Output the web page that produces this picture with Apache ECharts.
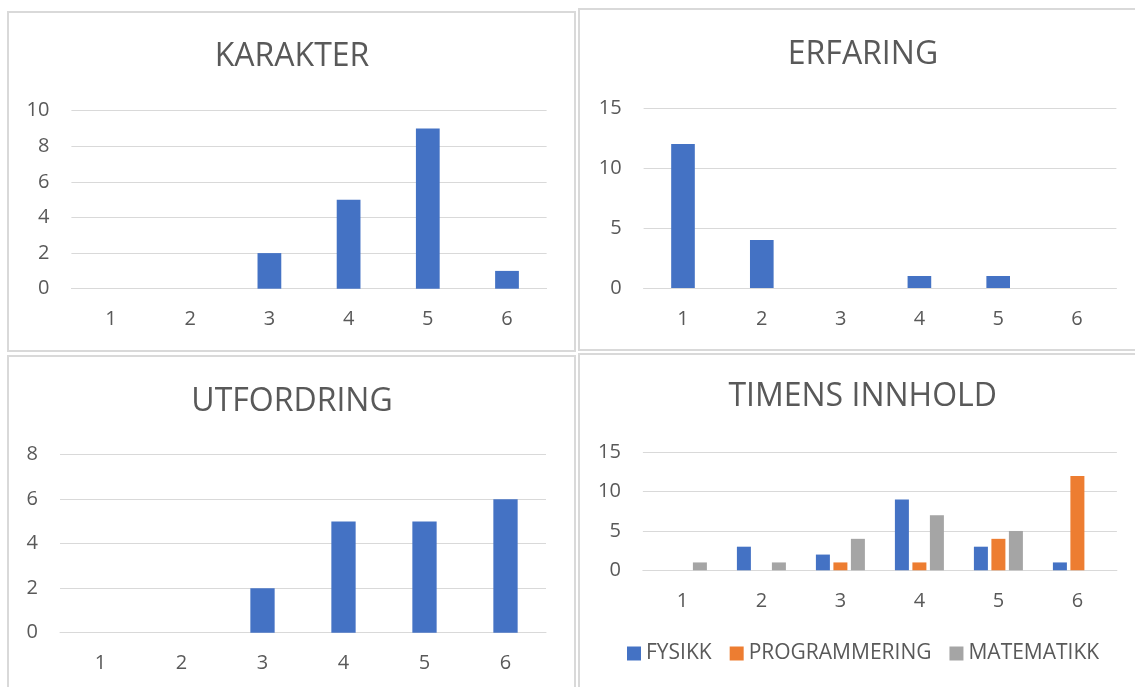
<!DOCTYPE html>
<html>
<head>
<meta charset="utf-8">
<script src="https://cdn.jsdelivr.net/npm/echarts@6/dist/echarts.min.js"></script>
<style>
html,body{margin:0;padding:0;background:#fff;}
#c{width:1135px;height:687px;}
</style>
</head>
<body>
<div id="c"></div>
<script>
const categories = ['1', '2', '3', '4', '5', '6'];
const karakter = [0, 0, 2, 5, 9, 1];
const erfaring = [12, 4, 0, 1, 1, 0];
const utfordring = [0, 0, 2, 5, 5, 6];
const fysikk = [0, 3, 2, 9, 3, 1];
const programmering = [0, 0, 1, 1, 4, 12];
const matematikk = [1, 1, 4, 7, 5, 0];
const titles = ['KARAKTER', 'ERFARING', 'UTFORDRING', 'TIMENS INNHOLD'];
const legendNames = ['FYSIKK', 'PROGRAMMERING', 'MATEMATIKK'];

const FONT = 'Open Sans';
const TXT = '#595959';
const GRID = '#d9d9d9';
const BLUE = '#4472C4', ORANGE = '#ED7D31', GRAY = '#A5A5A5';

const chart = echarts.init(document.getElementById('c'), null, {renderer: 'canvas'});

const grids = [
  {left: 71.4, top: 110.7, width: 475.2, height: 178},
  {left: 643.6, top: 108, width: 472.8, height: 180},
  {left: 60, top: 454.7, width: 486, height: 178},
  {left: 642.9, top: 452.3, width: 474, height: 118}
];
const yRanges = [[0, 10, 2], [0, 15, 5], [0, 8, 2], [0, 15, 5]];
const titlePos = [[292, 57], [863, 54.7], [292, 401.7], [862.7, 396.7]];

const xAxes = grids.map((g, i) => ({
  type: 'category', gridIndex: i, data: categories,
  axisLine: {show: true, lineStyle: {color: GRID, width: 1}},
  axisTick: {show: false},
  axisLabel: {color: TXT, fontFamily: FONT, fontSize: 20, margin: 21}
}));
const yAxes = grids.map((g, i) => ({
  type: 'value', gridIndex: i, min: yRanges[i][0], max: yRanges[i][1], interval: yRanges[i][2],
  axisLine: {show: false}, axisTick: {show: false},
  splitLine: {lineStyle: {color: GRID, width: 1}},
  axisLabel: {color: TXT, fontFamily: FONT, fontSize: 20, margin: 22}
}));

const single = (name, data, i) => ({
  name: name, type: 'bar', xAxisIndex: i, yAxisIndex: i, data: data,
  barWidth: '30%', itemStyle: {color: BLUE}, silent: true
});
const multi = (name, data, color) => ({
  name: name, type: 'bar', xAxisIndex: 3, yAxisIndex: 3, data: data,
  barWidth: 14, barGap: '25%', itemStyle: {color: color}, silent: true
});

const boxes = [
  [8, 12, 567, 339],
  [579, 9, 620, 341],
  [8, 356, 567, 400],
  [579, 354, 620, 400]
];

chart.setOption({
  backgroundColor: '#fff',
  animation: false,
  title: titles.map((t, i) => ({
    text: t, left: titlePos[i][0], top: titlePos[i][1],
    textAlign: 'center', textVerticalAlign: 'middle', padding: 0,
    textStyle: {color: TXT, fontFamily: FONT, fontSize: 32, fontWeight: 'normal'}
  })),
  graphic: boxes.map(b => ({
    type: 'rect', z: -1, silent: true,
    shape: {x: b[0], y: b[1], width: b[2], height: b[3]},
    style: {fill: 'none', stroke: GRID, lineWidth: 2}
  })),
  legend: {
    data: legendNames, left: 627, top: 643, padding: 0,
    itemWidth: 14, itemHeight: 14, itemGap: 18, icon: 'rect',
    textStyle: {color: TXT, fontFamily: FONT, fontSize: 21}
  },
  grid: grids,
  xAxis: xAxes,
  yAxis: yAxes,
  series: [
    single('KARAKTER', karakter, 0),
    single('ERFARING', erfaring, 1),
    single('UTFORDRING', utfordring, 2),
    multi(legendNames[0], fysikk, BLUE),
    multi(legendNames[1], programmering, ORANGE),
    multi(legendNames[2], matematikk, GRAY)
  ]
});
</script>
</body>
</html>
